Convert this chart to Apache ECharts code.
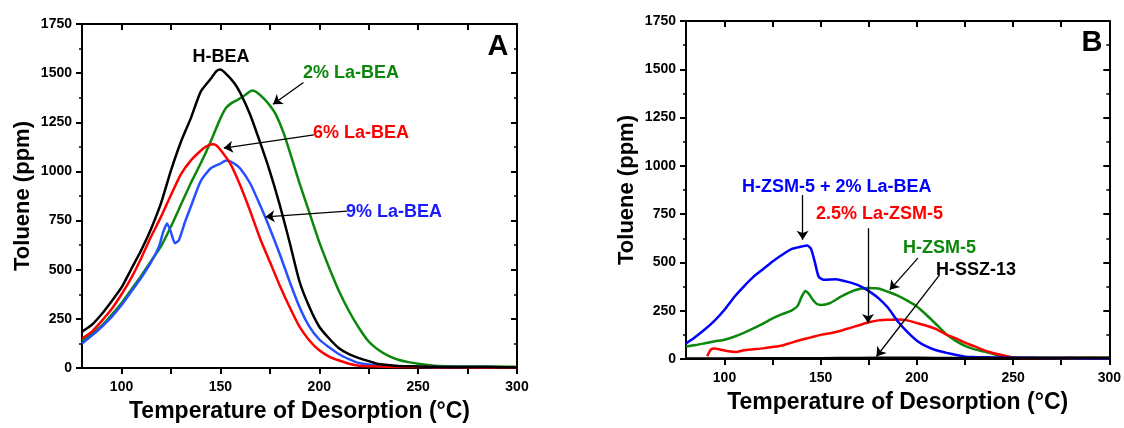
<!DOCTYPE html>
<html>
<head>
<meta charset="utf-8">
<script src="https://cdn.jsdelivr.net/npm/echarts@6/dist/echarts.min.js"></script>
<style>
html, body { margin: 0; padding: 0; background: #fff; }
#main { width: 1124px; height: 428px; }
</style>
</head>
<body>
<div id="main"></div>
<script>
// panel A - BEA samples
var hbeaT = [80,85,90,95,100,105,110,115,120,125,130,135,140,145,148,150,153,157,160,165,170,175,180,185,190,195,200,205,210,215,220,225,230,240,250,260,270,280,290,300];
var hbeaV = [185,220,275,340,410,505,600,710,840,1005,1150,1270,1405,1470,1510,1518,1495,1450,1400,1290,1150,1000,830,640,440,310,210,150,100,70,50,35,20,10,8,6,5,5,4,3];

var la2T = [80,85,90,95,100,105,110,115,120,125,130,135,140,145,150,153,156,158,162,166,168,172,175,178,182,186,190,195,200,205,210,215,220,225,230,235,240,245,250,255,260,270,280,290,300];
var la2V = [140,175,215,270,330,400,470,545,620,720,830,940,1040,1150,1270,1325,1350,1360,1385,1412,1405,1370,1335,1290,1195,1070,940,790,640,510,390,290,205,135,92,62,42,30,22,15,10,8,8,7,6];

var la6T = [80,85,90,95,100,105,110,115,120,125,130,135,140,143,146,148,150,155,160,165,170,175,180,185,190,195,200,205,210,215,220,230,240,250,260,270,280,290,300];
var la6V = [150,185,240,300,375,460,560,670,770,880,985,1055,1105,1128,1138,1132,1110,1040,930,800,660,540,420,310,210,140,90,58,38,22,12,8,5,5,4,4,3,3,3];

var la9T = [80,85,90,95,100,105,110,115,119,121,123,125,127,129,132,135,140,145,150,153,157,160,165,170,175,180,185,190,195,200,205,210,215,220,230,240,250,260,270,280,290,300];
var la9V = [125,165,210,260,320,390,460,540,620,690,735,690,635,650,740,820,950,1015,1040,1055,1040,1015,940,830,710,580,440,310,210,145,105,70,45,25,12,8,6,5,5,5,4,4];

// panel B - ZSM-5 / SSZ-13 samples
var zsmLaT = [80,85,90,95,100,105,110,115,120,125,130,135,140,143,145,147,149,152,158,163,168,172,176,180,185,190,195,200,205,210,215,220,225,230,240,250,260,270,280,290,300];
var zsmLaV = [80,115,155,200,255,320,375,425,465,505,540,570,582,588,570,500,425,410,413,402,388,370,345,315,265,195,140,95,65,45,33,22,12,10,8,6,6,5,5,4,4];

var zsm25T = [91,93,95,98,102,106,110,115,120,125,130,135,140,145,150,155,160,165,170,175,180,185,190,195,200,205,210,215,220,225,230,235,240,245,250,260,270,280,290,300];
var zsm25V = [15,50,55,48,40,36,45,50,55,62,70,85,100,112,125,133,145,160,175,190,200,203,205,200,186,172,155,128,108,85,65,45,30,18,8,5,5,5,5,5];

var zsmT = [80,85,90,95,100,105,110,115,120,125,130,135,138,140,142,144,146,148,150,155,160,165,170,175,180,185,190,195,200,205,210,215,220,225,230,235,240,245,250,260,270,280,290,300];
var zsmV = [65,72,82,92,100,115,135,158,183,210,232,252,275,320,352,335,305,285,280,290,320,345,362,368,365,348,328,302,272,228,180,130,95,68,50,38,25,15,8,6,6,5,6,5];

var sszT = [80,100,120,140,160,180,200,220,240,260,280,300];
var sszV = [3,3,4,4,5,6,6,5,5,5,6,6];

// axis ticks / labels
var xLabels = [100,150,200,250,300];
var xTicks = [100,125,150,175,200,225,250,275,300];

var FONT = '"Liberation Sans", Arial, sans-serif';

function pairs(t, v) {
	var out = [];
	for (var i = 0; i < t.length; i++) out.push([t[i], v[i]]);
	return out;
}

function arrow(x1, y1, x2, y2) {
	return [{ coord: [x1, y1], symbol: 'none' }, { coord: [x2, y2], symbol: 'arrow' }];
}

function xAx(grid, top) {
	return {
		gridIndex: grid, type: 'value', min: 80, max: 300,
		position: top ? 'top' : 'bottom',
		axisLine: { show: true, onZero: false, lineStyle: { color: '#000', width: 2 } },
		axisTick: { show: true, inside: top, customValues: xTicks, length: 6, lineStyle: { color: '#000', width: 2 } },
		axisLabel: top ? { show: false } : {
			customValues: xLabels, color: '#000', fontWeight: 'bold', fontSize: 14,
			fontFamily: FONT, margin: 12,
			formatter: function (v) { return String(v); }
		},
		splitLine: { show: false },
		name: top ? '' : 'Temperature of Desorption (°C)',
		nameLocation: 'middle', nameGap: 32,
		nameTextStyle: { color: '#000', fontWeight: 'bold', fontSize: 23, fontFamily: FONT }
	};
}

function yAx(grid, right) {
	return {
		gridIndex: grid, type: 'value', min: 0, max: 1750, interval: 250,
		position: right ? 'right' : 'left',
		axisLine: { show: true, onZero: false, lineStyle: { color: '#000', width: 2 } },
		axisTick: { show: true, inside: right, length: 6, lineStyle: { color: '#000', width: 2 } },
		minorTick: { show: true, splitNumber: 2, length: 3, lineStyle: { color: '#000', width: 1.5 } },
		axisLabel: right ? { show: false } : {
			color: '#000', fontWeight: 'bold', fontSize: 14, fontFamily: FONT, margin: 10,
			formatter: function (v) { return String(v); }
		},
		splitLine: { show: false },
		name: right ? '' : 'Toluene (ppm)',
		nameLocation: 'middle', nameGap: 48, nameRotate: 90,
		nameTextStyle: { color: '#000', fontWeight: 'bold', fontSize: 22, fontFamily: FONT }
	};
}

function line(t, v, color, axis, marks) {
	var s = {
		type: 'line', xAxisIndex: axis, yAxisIndex: axis,
		data: pairs(t, v), showSymbol: false, smooth: 0.2, silent: true,
		lineStyle: { width: 2.5, color: color }
	};
	if (marks) {
		s.markLine = {
			silent: true, symbolSize: 9,
			lineStyle: { color: '#000', width: 1.3, type: 'solid' },
			label: { show: false },
			data: marks
		};
	}
	return s;
}

function txt(str, x, y, color, size, align) {
	return {
		type: 'text', x: x, y: y,
		style: {
			text: str, fill: color, font: 'bold ' + size + 'px ' + FONT,
			textAlign: align || 'left', textVerticalAlign: 'middle'
		}
	};
}

var option = {
	backgroundColor: '#fff',
	animation: false,
	grid: [
		{ left: 82, top: 24, width: 435, height: 347 },
		{ left: 686, top: 21, width: 424, height: 338 }
	],
	xAxis: [xAx(0, false), xAx(0, true), xAx(1, false), xAx(1, true)],
	yAxis: [yAx(0, false), yAx(0, true), yAx(1, false), yAx(1, true)],
	series: [
		line(la2T, la2V, '#0b870b', 0, [arrow(192, 1452, 176.6, 1342)]),
		line(la9T, la9V, '#2650ff', 0, [arrow(214.2, 798, 172.8, 769)]),
		line(la6T, la6V, '#ff0000', 0, [arrow(197.3, 1186, 151.7, 1119)]),
		line(hbeaT, hbeaV, '#000000', 0),
		line(zsmT, zsmV, '#0b870b', 2, [arrow(200.5, 522, 185.9, 358)]),
		line(zsm25T, zsm25V, '#ff0000', 2, [arrow(174.6, 677, 174.6, 186)]),
		line(zsmLaT, zsmLaV, '#0000ff', 2, [arrow(140.6, 849, 140.6, 617)]),
		line(sszT, sszV, '#000000', 2, [arrow(211.8, 436, 179, 13)])
	],
	graphic: [
		txt('H-BEA', 221, 57, '#000', 18, 'center'),
		txt('2% La-BEA', 303, 73, '#0b870b', 18),
		txt('6% La-BEA', 313, 133, '#ff0000', 18),
		txt('9% La-BEA', 346, 212, '#1a1aff', 18),
		txt('A', 498, 47, '#000', 29, 'center'),
		txt('H-ZSM-5 + 2% La-BEA', 742, 187, '#0000ff', 18),
		txt('2.5% La-ZSM-5', 816, 214, '#ff0000', 18),
		txt('H-ZSM-5', 903, 248, '#0b870b', 18),
		txt('H-SSZ-13', 936, 270, '#000', 18),
		txt('B', 1092, 43, '#000', 29, 'center')
	]
};

var myChart = echarts.init(document.getElementById('main'));
myChart.setOption(option, true);
</script>
</body>
</html>
